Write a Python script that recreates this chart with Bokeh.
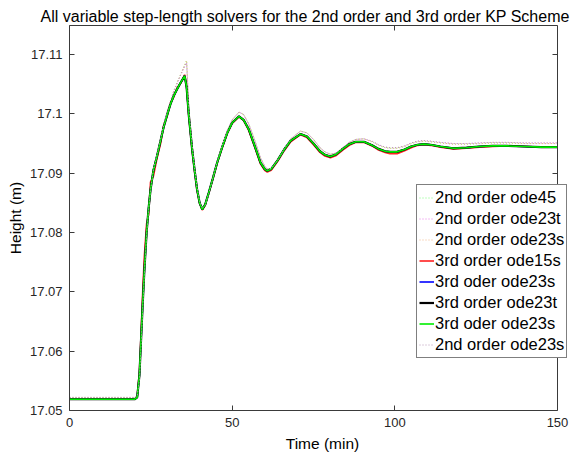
from bokeh.plotting import figure
from bokeh.models import (Range1d, FixedTicker, PrintfTickFormatter, LinearAxis, Legend,
                          LegendItem, CustomJSTickFormatter)
from bokeh.embed import file_html
from bokeh.resources import INLINE

# ---- data ----
t = [0, 10, 20, 20.8, 21.5, 22, 22.5, 23, 23.7, 24.3, 24.9, 25.8, 26.9, 28, 29, 30, 31, 32, 33.1,
     34.2, 35.4, 36, 36.7, 37.7, 38.5, 39.2, 40, 40.8, 41.7, 42.8, 44, 45.4, 47, 48.5, 50, 52.1,
     53.5, 55.1, 57, 58.7, 60, 60.8, 62, 64, 66, 68, 71, 73, 75, 77, 78.5, 80.2, 82, 84, 86, 88,
     90.5, 93, 95, 97, 98.5, 100.7, 103, 105, 107, 108.9, 111, 114, 118, 122, 126, 130, 134.5,
     140, 145, 150]

# 3rd order solvers (solid)
h3_ode23s = [17.0519, 17.0519, 17.0519, 17.0522, 17.0560, 17.0620, 17.0680, 17.0735, 17.0800,
             17.0840, 17.0872, 17.0905, 17.0929, 17.0955, 17.0979, 17.0998, 17.1016, 17.1030,
             17.1042, 17.1053, 17.1064, 17.1045, 17.0996, 17.0940, 17.0903, 17.0873, 17.0850,
             17.0839, 17.0847, 17.0867, 17.0890, 17.0918, 17.0945, 17.0968, 17.0985, 17.0996,
             17.0990, 17.0974, 17.0945, 17.0918, 17.0907, 17.0904, 17.0907, 17.0922, 17.0940,
             17.0955, 17.0966, 17.0962, 17.0950, 17.0937, 17.0931, 17.0928, 17.0932, 17.0941,
             17.0949, 17.0953, 17.0953, 17.0947, 17.0941, 17.0937, 17.0936, 17.0936, 17.0940,
             17.0945, 17.0948, 17.0949, 17.0948, 17.0945, 17.0942, 17.0943, 17.0945, 17.0946,
             17.0946, 17.0945, 17.0944, 17.0944]
h3_ode23t = h3_ode23s
h3_ode23s_b = h3_ode23s
h3_ode15s = [17.0519, 17.0519, 17.0519, 17.0523, 17.0565, 17.0630, 17.0700, 17.0760, 17.0815,
             17.0830, 17.0885, 17.0895, 17.0925, 17.0950, 17.0982, 17.0996, 17.1018, 17.1028,
             17.1044, 17.1052, 17.1066, 17.1046, 17.0995, 17.0938, 17.0901, 17.0871, 17.0849,
             17.0838, 17.0846, 17.0866, 17.0889, 17.0917, 17.0944, 17.0967, 17.0984, 17.0995,
             17.0989, 17.0972, 17.0943, 17.0916, 17.0905, 17.0902, 17.0905, 17.0920, 17.0938,
             17.0953, 17.0965, 17.0960, 17.0948, 17.0935, 17.0929, 17.0926, 17.0930, 17.0939,
             17.0947, 17.0952, 17.0952, 17.0946, 17.0939, 17.0935, 17.0933, 17.0933, 17.0938,
             17.0943, 17.0947, 17.0948, 17.0947, 17.0944, 17.0941, 17.0942, 17.0944, 17.0945,
             17.0946, 17.0945, 17.0944, 17.0944]

# 2nd order solvers (dotted)
h2_ode45 = [17.0522, 17.0522, 17.0522, 17.0524, 17.0550, 17.0605, 17.0668, 17.0726, 17.0793,
            17.0836, 17.0870, 17.0905, 17.0931, 17.0958, 17.0983, 17.1003, 17.1022, 17.1038,
            17.1053, 17.1067, 17.1083, 17.1090, 17.1010, 17.0948, 17.0908, 17.0876, 17.0852,
            17.0841, 17.0846, 17.0866, 17.0890, 17.0920, 17.0948, 17.0972, 17.0990, 17.1003,
            17.0999, 17.0983, 17.0955, 17.0926, 17.0912, 17.0907, 17.0908, 17.0922, 17.0941,
            17.0958, 17.0971, 17.0968, 17.0957, 17.0943, 17.0936, 17.0932, 17.0934, 17.0943,
            17.0952, 17.0957, 17.0958, 17.0953, 17.0947, 17.0943, 17.0942, 17.0942, 17.0945,
            17.0950, 17.0953, 17.0954, 17.0953, 17.0951, 17.0949, 17.0949, 17.0950, 17.0951,
            17.0951, 17.0950, 17.0950, 17.0950]
h2_ode23t = [17.0522, 17.0522, 17.0522, 17.0524, 17.0552, 17.0608, 17.0670, 17.0728, 17.0795,
             17.0837, 17.0871, 17.0906, 17.0932, 17.0958, 17.0983, 17.1003, 17.1021, 17.1037,
             17.1052, 17.1066, 17.1080, 17.1086, 17.1008, 17.0947, 17.0907, 17.0876, 17.0852,
             17.0841, 17.0846, 17.0866, 17.0890, 17.0920, 17.0948, 17.0972, 17.0990, 17.1003,
             17.0999, 17.0983, 17.0955, 17.0926, 17.0912, 17.0907, 17.0908, 17.0922, 17.0941,
             17.0958, 17.0971, 17.0968, 17.0957, 17.0943, 17.0936, 17.0932, 17.0934, 17.0943,
             17.0952, 17.0957, 17.0958, 17.0954, 17.0948, 17.0944, 17.0943, 17.0943, 17.0946,
             17.0951, 17.0954, 17.0955, 17.0954, 17.0952, 17.0950, 17.0950, 17.0951, 17.0952,
             17.0952, 17.0951, 17.0951, 17.0951]
h2_ode23s = h2_ode45
h2_ode23s_b = h2_ode23t

x_ticks = [0, 50, 100, 150]
y_ticks = [17.05, 17.06, 17.07, 17.08, 17.09, 17.1, 17.11]
x_limits = (0, 150)
y_limits = (17.05, 17.1149)

series = [
    ("2nd order ode45", h2_ode45, "#7dff7d", "dotted"),
    ("2nd order ode23t", h2_ode23t, "#e87be8", "dotted"),
    ("2nd order ode23s", h2_ode23s, "#f2b98a", "dotted"),
    ("3rd order ode15s", h3_ode15s, "#ff2020", "solid"),
    ("3rd oder ode23s", h3_ode23s, "#0000ff", "solid"),
    ("3rd order ode23t", h3_ode23t, "#000000", "solid"),
    ("3rd oder ode23s", h3_ode23s_b, "#00ee00", "solid"),
    ("2nd order ode23s", h2_ode23s_b, "#b898b8", "dotted"),
]

FONT = "Liberation Sans"
TXT = "#262626"
AX = "#3a3a3a"

# frame: plot box spans 488 px for 150 min; frame extended right so the legend can overhang
px_per_min = 488 / 150
extra_px = 18

p = figure(width=578, height=457, output_backend="svg", toolbar_location=None,
           x_range=Range1d(x_limits[0], x_limits[1] + extra_px / px_per_min),
           y_range=Range1d(*y_limits),
           title="All variable step-length solvers for the 2nd order and 3rd order KP Scheme",
           min_border_left=69, min_border_right=3, min_border_top=25, min_border_bottom=47)

p.title.text_font = FONT
p.title.text_font_size = "16px"
p.title.text_font_style = "normal"
p.title.align = "left"
p.title.offset = -29
p.title.standoff = 1
p.title.text_color = "#000000"

p.background_fill_color = "white"
p.border_fill_color = "white"
p.outline_line_color = None
p.xgrid.visible = False
p.ygrid.visible = False

for ax in (p.xaxis[0], p.yaxis[0]):
    ax.major_tick_in = 5
    ax.major_tick_out = 0
    ax.minor_tick_in = 0
    ax.minor_tick_out = 0
    ax.axis_line_color = AX
    ax.major_tick_line_color = AX
    ax.major_label_text_font = FONT
    ax.major_label_text_font_size = "13px"
    ax.major_label_text_color = TXT
    ax.axis_label_text_font = FONT
    ax.axis_label_text_font_size = "15.5px"
    ax.axis_label_text_font_style = "normal"
    ax.axis_label_text_color = "#000000"

p.xaxis[0].ticker = FixedTicker(ticks=x_ticks)
p.xaxis[0].bounds = x_limits
p.yaxis[0].ticker = FixedTicker(ticks=y_ticks)
p.yaxis[0].formatter = PrintfTickFormatter(format="%g")
p.xaxis[0].axis_label = "Time (min)"
p.yaxis[0].axis_label = "Height (m)"
p.xaxis[0].major_label_standoff = 7
p.yaxis[0].major_label_standoff = 7
p.xaxis[0].axis_label_standoff = 5
p.yaxis[0].axis_label_standoff = 3

blank = CustomJSTickFormatter(code="return ''")
# box: top edge and right edge (at the last minute), ticks pointing inwards
top = LinearAxis(ticker=FixedTicker(ticks=x_ticks), formatter=blank, bounds=x_limits,
                 major_tick_in=5, major_tick_out=0, minor_tick_in=0, minor_tick_out=0,
                 axis_line_color=AX, major_tick_line_color=AX, major_label_standoff=0)
right = LinearAxis(ticker=FixedTicker(ticks=y_ticks), formatter=blank,
                   fixed_location=x_limits[1],
                   major_tick_in=5, major_tick_out=0, minor_tick_in=0, minor_tick_out=0,
                   axis_line_color=AX, major_tick_line_color=AX, major_label_standoff=0)
p.add_layout(top, "above")
p.add_layout(right, "right")

items = []
for name, h, color, style in series:
    if style == "dotted":
        r = p.line(t, h, line_color=color, line_width=1, line_dash="1 2")
    else:
        w = 2.2 if color == "#000000" else 1.6
        r = p.line(t, h, line_color=color, line_width=w)
    items.append(LegendItem(label=name, renderers=[r]))

legend = Legend(items=items, location=(347, 52), orientation="vertical",
                label_text_font=FONT, label_text_font_size="16.5px", label_text_color="#000000",
                glyph_width=15, glyph_height=21, label_height=21, label_standoff=1,
                spacing=0, padding=2, margin=0,
                border_line_color="#000000", border_line_width=1,
                background_fill_color="white", background_fill_alpha=1.0)
p.add_layout(legend, "center")

open("out.html", "w").write(file_html(p, INLINE))
